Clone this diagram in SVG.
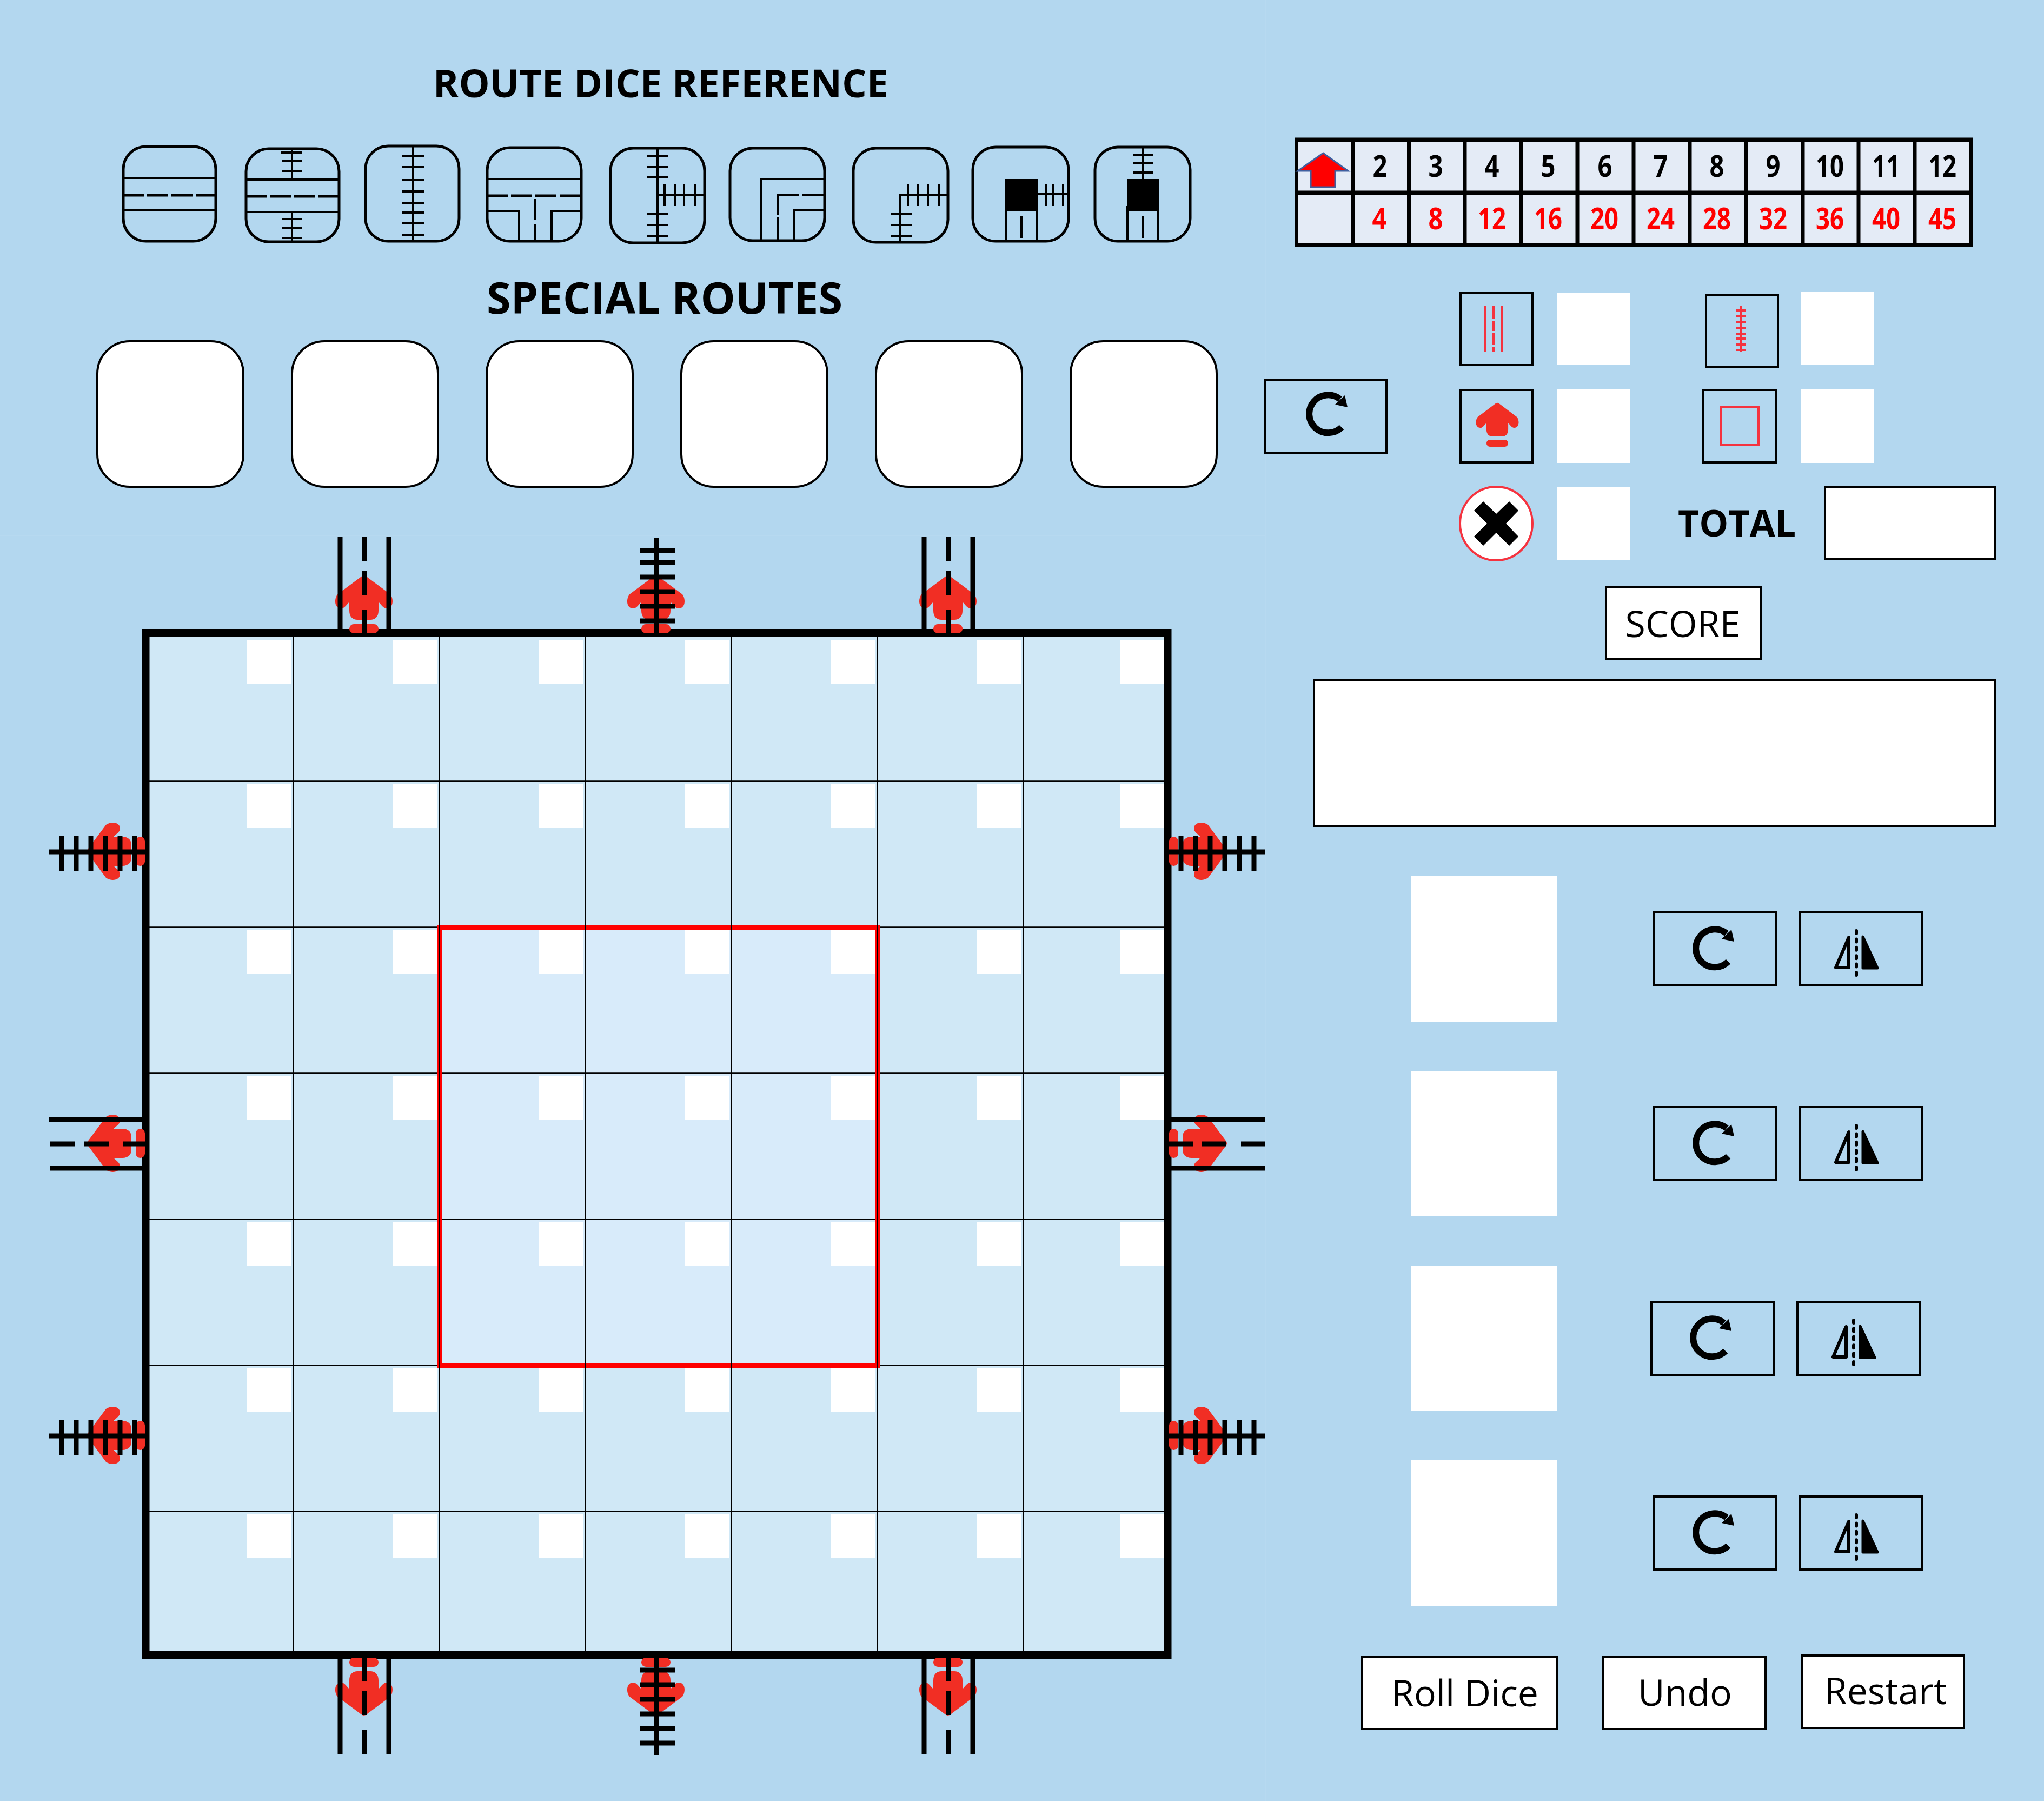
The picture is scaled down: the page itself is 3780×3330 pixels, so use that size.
<svg xmlns="http://www.w3.org/2000/svg" width="3780" height="3330" viewBox="0 0 3780 3330">
<style>
text{font-family:"Open Sans","Noto Sans",sans-serif;fill:#000}
.h{font-weight:700;text-anchor:middle}
.b{font-size:68px;text-anchor:middle}
.n{font-weight:700;font-size:56px;text-anchor:middle}
.r{fill:#f00}
.t{fill:none;stroke:#000;stroke-width:4}
.t5{fill:none;stroke:#000;stroke-width:5}
.box{fill:#fff;stroke:#000;stroke-width:4}
.btn{fill:none;stroke:#000;stroke-width:4}
.wh{fill:#fff}
.ar{fill:#f12e24}
.rd{fill:none;stroke:#000;stroke-width:9}
.leg{fill:none;stroke:#f5333f;stroke-width:4}
.gl{stroke:#000;stroke-width:2.5;fill:none}
</style>
<defs>
<g id="arrow"><path d="M-6,-104Q0,-110 6,-104L49,-72C56,-62 54,-46 42,-46C36,-46 33,-52 27,-58L27,-42C27,-30 20,-25 12,-25L-12,-25C-20,-25 -27,-30 -27,-42L-27,-58C-33,-52 -36,-46 -42,-46C-54,-46 -56,-62 -49,-72Z"/><rect x="-27" y="-17" width="54" height="17" rx="8.5"/></g>
<g id="rot"><path d="M139,93A35,35 0 1 1 136,41" fill="none" stroke="#000" stroke-width="12"/><path d="M145,34L150,56L127,51Z" fill="#000"/></g>
<g id="rotb"><rect class="btn" x="2" y="2" width="226" height="135"/><use href="#rot"/></g>
<g id="flipb"><rect class="btn" x="2" y="2" width="226" height="135"/><path d="M106,36V118" fill="none" stroke="#000" stroke-width="6" stroke-linecap="round" stroke-dasharray="5 10.4"/><path d="M92,48L68,104H92Z" fill="none" stroke="#000" stroke-width="6" stroke-linejoin="round"/><path d="M118,47V105H145Z" fill="#000" stroke="#000" stroke-width="5" stroke-linejoin="round"/></g>
<g id="whrow"><rect class="wh" x="457" width="81" height="81"/><rect class="wh" x="727" width="81" height="81"/><rect class="wh" x="997" width="81" height="81"/><rect class="wh" x="1267" width="81" height="81"/><rect class="wh" x="1537" width="81" height="81"/><rect class="wh" x="1807" width="81" height="81"/><rect class="wh" x="2072" width="81" height="81"/></g>
<g id="roadV" class="rd"><path d="M-44,0V179M46,0V179"/><path d="M1,0V46M1,63V109M1,135V179"/></g>
<g id="railV" class="rd"><path d="M0,0V177"/><path d="M-31,24H34M-31,46H34M-31,73H34M-31,100H34M-31,127H34M-31,154H34"/></g>
</defs>
<rect id="background" width="3780" height="3330" fill="#b3d7ef"/>
<path d="M2340,0V3330M0,990H2340" fill="none" stroke="#bcdcf2" stroke-width="1"/>

<text id="title-reference" class="h" x="1222" y="180" font-size="72">ROUTE DICE REFERENCE</text>
<text id="title-special" class="h" x="1229" y="580" font-size="81">SPECIAL ROUTES</text>

<g id="die-1"><rect class="t5" x="228" y="271" width="171" height="175" rx="42"/><path class="t" d="M227,329H400M227,389H400"/><path class="t5" d="M227,361H400" stroke-dasharray="39 6"/></g>
<g id="die-2"><rect class="t5" x="455" y="275" width="172" height="172" rx="42"/><path class="t" d="M454,332H628M454,392H628M540,275V332M540,392V447M520,282H559M521,298H559M521,316H559M521,405H559M521,422H559M521,440H559"/><path class="t5" d="M454,363H628" stroke-dasharray="39 6"/></g>
<g id="die-3"><rect class="t5" x="676" y="270" width="173" height="176" rx="42"/><path class="t" d="M763,270V446M744,288H784M744,309H784M744,333H784M744,354H784M744,375H784M744,393H784M744,413H784M744,434H784"/></g>
<g id="die-4"><rect class="t5" x="901" y="273" width="174" height="173" rx="42"/><path class="t" d="M900,331H1076M900,390H960V446M1076,390H1020V446M989,368V407M989,414V448"/><path class="t5" d="M900,362H1076" stroke-dasharray="39 6"/></g>
<g id="die-5"><rect class="t5" x="1129" y="274" width="174" height="175" rx="42"/><path class="t" d="M1216,274V449M1196,288H1236M1196,309H1236M1196,327H1236M1196,395H1236M1196,416H1236M1196,437H1236M1216,361H1304M1229,340V380M1248,340V380M1265,340V380M1286,340V380"/></g>
<g id="die-6"><rect class="t5" x="1350" y="274" width="175" height="171" rx="42"/><path class="t" d="M1408,447V331H1525M1468,445V389H1525"/><path class="t" d="M1439,445V401M1439,398V360H1478M1484,360H1525"/></g>
<g id="die-7"><rect class="t5" x="1578" y="274" width="175" height="174" rx="42"/><path class="t" d="M1665,448V360H1754M1647,395H1687M1647,416H1687M1647,437H1687M1679,340V380M1698,340V380M1716,340V380M1736,340V380"/></g>
<g id="die-8"><rect class="t5" x="1799" y="272" width="177" height="174" rx="42"/><rect x="1859" y="331" width="60" height="59"/><path class="t" d="M1861,380V448M1918,380V446M1889,400V440M1919,358H1977M1934,341V380M1948,341V380M1966,341V380"/></g>
<g id="die-9"><rect class="t5" x="2025" y="272" width="176" height="174" rx="42"/><rect x="2084" y="331" width="60" height="59"/><path class="t" d="M2085,380V448M2142,380V446M2114,400V440M2114,272V331M2095,286H2133M2095,301H2133M2095,319H2133"/></g>

<g id="special-1"><rect class="box" x="180" y="631" width="270" height="269" rx="60"/></g>
<g id="special-2"><rect class="box" x="540" y="631" width="270" height="269" rx="60"/></g>
<g id="special-3"><rect class="box" x="900" y="631" width="270" height="269" rx="60"/></g>
<g id="special-4"><rect class="box" x="1260" y="631" width="270" height="269" rx="60"/></g>
<g id="special-5"><rect class="box" x="1620" y="631" width="270" height="269" rx="60"/></g>
<g id="special-6"><rect class="box" x="1980" y="631" width="270" height="269" rx="60"/></g>
<g id="rotate-special" transform="translate(2338,701)"><rect class="btn" x="2" y="2" width="224" height="134"/><use href="#rot" x="4" y="-4"/></g>

<g id="score-table">
<rect x="2395" y="255" width="1254" height="202" fill="#e4ebf6"/>
<path d="M2394,258.500H3649M2394,356.500H3649M2394,453H3649" fill="none" stroke="#000" stroke-width="8"/>
<path d="M2397.500,255V457M2501.500,255V457M2605.500,255V457M2709,255V457M2813,255V457M2917,255V457M3021,255V457M3125,255V457M3229,255V457M3334,255V457M3437,255V457M3541,255V457M3645.500,255V457" fill="none" stroke="#000" stroke-width="7"/>
<path d="M2447,283L2400,316H2424V346H2469V316H2493Z" fill="#f00" stroke="#3f5f9f" stroke-width="3"/>
<g class="n">
<text class="n" x="2552" y="327" textLength="27" lengthAdjust="spacingAndGlyphs">2</text><text class="n" x="2655" y="327" textLength="27" lengthAdjust="spacingAndGlyphs">3</text><text class="n" x="2759" y="327" textLength="27" lengthAdjust="spacingAndGlyphs">4</text><text class="n" x="2863" y="327" textLength="27" lengthAdjust="spacingAndGlyphs">5</text><text class="n" x="2968" y="327" textLength="27" lengthAdjust="spacingAndGlyphs">6</text><text class="n" x="3071" y="327" textLength="27" lengthAdjust="spacingAndGlyphs">7</text><text class="n" x="3175" y="327" textLength="27" lengthAdjust="spacingAndGlyphs">8</text><text class="n" x="3279" y="327" textLength="27" lengthAdjust="spacingAndGlyphs">9</text><text class="n" x="3384" y="327" textLength="52" lengthAdjust="spacingAndGlyphs">10</text><text class="n" x="3488" y="327" textLength="52" lengthAdjust="spacingAndGlyphs">11</text><text class="n" x="3592" y="327" textLength="52" lengthAdjust="spacingAndGlyphs">12</text>
<text class="n r" x="2551" y="424" textLength="27" lengthAdjust="spacingAndGlyphs">4</text><text class="n r" x="2655" y="424" textLength="27" lengthAdjust="spacingAndGlyphs">8</text><text class="n r" x="2759" y="424" textLength="52" lengthAdjust="spacingAndGlyphs">12</text><text class="n r" x="2863" y="424" textLength="52" lengthAdjust="spacingAndGlyphs">16</text><text class="n r" x="2967" y="424" textLength="52" lengthAdjust="spacingAndGlyphs">20</text><text class="n r" x="3071" y="424" textLength="52" lengthAdjust="spacingAndGlyphs">24</text><text class="n r" x="3175" y="424" textLength="52" lengthAdjust="spacingAndGlyphs">28</text><text class="n r" x="3279" y="424" textLength="52" lengthAdjust="spacingAndGlyphs">32</text><text class="n r" x="3384" y="424" textLength="52" lengthAdjust="spacingAndGlyphs">36</text><text class="n r" x="3488" y="424" textLength="52" lengthAdjust="spacingAndGlyphs">40</text><text class="n r" x="3592" y="424" textLength="52" lengthAdjust="spacingAndGlyphs">45</text>
</g>
</g>

<g id="legend-road"><rect class="btn" x="2701" y="541" width="133" height="134"/><path class="leg" d="M2746,565V651M2778,565V651M2762,565V590M2762,594V612M2762,616V638M2762,642V651"/></g>
<rect id="legend-road-value" class="wh" x="2879" y="541" width="135" height="134"/>
<g id="legend-rail"><rect class="btn" x="3155" y="545" width="133" height="134"/><path class="leg" d="M3220,565V651M3210,574H3229M3210,584H3229M3210,596H3229M3210,607H3229M3210,617H3229M3210,626H3229M3210,637H3229M3210,647H3229"/></g>
<rect id="legend-rail-value" class="wh" x="3330" y="540" width="135" height="135"/>
<g id="legend-exit"><rect class="btn" x="2701" y="721" width="133" height="134"/><use href="#arrow" class="ar" transform="translate(2769,826) scale(.745,.76)"/></g>
<rect id="legend-exit-value" class="wh" x="2879" y="720" width="135" height="136"/>
<g id="legend-center"><rect class="btn" x="3150" y="721" width="134" height="134"/><rect class="leg" x="3182" y="753" width="70" height="70"/></g>
<rect id="legend-center-value" class="wh" x="3330" y="720" width="135" height="136"/>
<g id="legend-error"><ellipse cx="2767" cy="968" rx="67" ry="68" fill="#fff" stroke="#f5333f" stroke-width="4"/><polygon points="2743,927 2767,950 2791,927 2808,944 2785,968 2808,992 2791,1009 2767,985 2743,1009 2726,992 2750,968 2726,944"/></g>
<rect id="legend-error-value" class="wh" x="2879" y="900" width="135" height="135"/>
<text id="total-label" class="h" x="3212" y="992" font-size="68">TOTAL</text>
<rect id="total-box" class="box" x="3375" y="900" width="314" height="134"/>
<g id="score-btn"><rect class="box" x="2970" y="1085" width="287" height="134"/><text class="b" x="3112" y="1178">SCORE</text></g>
<rect id="score-box" class="box" x="2430" y="1258" width="1259" height="269"/>

<g id="board">
<rect x="270" y="1170" width="1890" height="1890" fill="#d0e8f6"/>
<rect x="812" y="1714" width="810" height="810" fill="#d8ebfa"/>
<use href="#whrow" y="1184"/><use href="#whrow" y="1450"/><use href="#whrow" y="1720"/><use href="#whrow" y="1990"/><use href="#whrow" y="2260"/><use href="#whrow" y="2530"/><use href="#whrow" y="2800"/>
<path class="gl" d="M270,1444.500H2160M270,1714.500H2160M270,1984.500H2160M270,2254.500H2160M270,2524.500H2160M270,2794.500H2160"/>
<rect x="812.500" y="1714.500" width="810" height="810" fill="none" stroke="#f00" stroke-width="9"/>
<path class="gl" d="M542.500,1170V3060M812.500,1170V3060M1082.500,1170V3060M1352.500,1170V3060M1622.500,1170V3060M1892.500,1170V3060"/>
<rect x="269.500" y="1170" width="1890" height="1890" fill="none" stroke="#000" stroke-width="14"/>
</g>

<g id="exit-arrows" class="ar">
<use href="#arrow" transform="translate(673,1171)"/><use href="#arrow" transform="translate(1213,1171)"/><use href="#arrow" transform="translate(1753,1171)"/>
<use href="#arrow" transform="translate(673,3065) rotate(180)"/><use href="#arrow" transform="translate(1213,3065) rotate(180)"/><use href="#arrow" transform="translate(1753,3065) rotate(180)"/>
<use href="#arrow" transform="translate(268,1574) rotate(-90)"/><use href="#arrow" transform="translate(268,2114) rotate(-90)"/><use href="#arrow" transform="translate(268,2654) rotate(-90)"/>
<use href="#arrow" transform="translate(2162,1574) rotate(90)"/><use href="#arrow" transform="translate(2162,2114) rotate(90)"/><use href="#arrow" transform="translate(2162,2654) rotate(90)"/>
</g>

<g id="connectors">
<use href="#roadV" x="673" y="992"/><use href="#roadV" x="1753" y="992"/><use href="#railV" x="1214" y="994"/>
<g class="rd"><path d="M629,3065V3243M719,3065V3243M674,3065V3108M674,3126V3171M674,3198V3243"/><path d="M1709,3065V3243M1799,3065V3243M1754,3065V3108M1754,3126V3171M1754,3198V3243"/><path d="M1214,3065V3245M1183,3088H1248M1183,3115H1248M1183,3142H1248M1183,3169H1248M1183,3196H1248M1183,3223H1248"/>
<path d="M91,1575H268M114,1546V1610M141,1546V1610M168,1546V1610M195,1546V1610M222,1546V1610M249,1546V1610"/>
<path d="M91,2655H268M114,2626V2690M141,2626V2690M168,2626V2690M195,2626V2690M222,2626V2690M249,2626V2690"/>
<path d="M90,2070H263M92,2160H263M92,2115H138M156,2115H201M227,2115H268"/>
<path d="M2162,1575H2339M2184,1546V1610M2211,1546V1610M2238,1546V1610M2265,1546V1610M2292,1546V1610M2319,1546V1610"/>
<path d="M2162,2655H2339M2184,2626V2690M2211,2626V2690M2238,2626V2690M2265,2626V2690M2292,2626V2690M2319,2626V2690"/>
<path d="M2166,2070H2339M2166,2160H2339M2162,2115H2206M2223,2115H2268M2295,2115H2339"/>
</g>
</g>

<g id="slots">
<rect class="wh" x="2610" y="1620" width="270" height="269"/>
<rect class="wh" x="2610" y="1980" width="270" height="269"/>
<rect class="wh" x="2610" y="2340" width="270" height="269"/>
<rect class="wh" x="2610" y="2700" width="270" height="269"/>
</g>
<g id="row-1-buttons"><use href="#rotb" x="3057" y="1685"/><use href="#flipb" x="3327" y="1685"/></g>
<g id="row-2-buttons"><use href="#rotb" x="3057" y="2045"/><use href="#flipb" x="3327" y="2045"/></g>
<g id="row-3-buttons"><use href="#rotb" x="3052" y="2405"/><use href="#flipb" x="3322" y="2405"/></g>
<g id="row-4-buttons"><use href="#rotb" x="3057" y="2765"/><use href="#flipb" x="3327" y="2765"/></g>

<g id="roll-btn"><rect class="box" x="2519" y="3063" width="360" height="134"/><text class="b" x="2709" y="3155">Roll Dice</text></g>
<g id="undo-btn"><rect class="box" x="2965" y="3063" width="300" height="134"/><text class="b" x="3116" y="3154">Undo</text></g>
<g id="restart-btn"><rect class="box" x="3332" y="3061" width="300" height="134"/><text class="b" x="3487" y="3151">Restart</text></g>
</svg>
